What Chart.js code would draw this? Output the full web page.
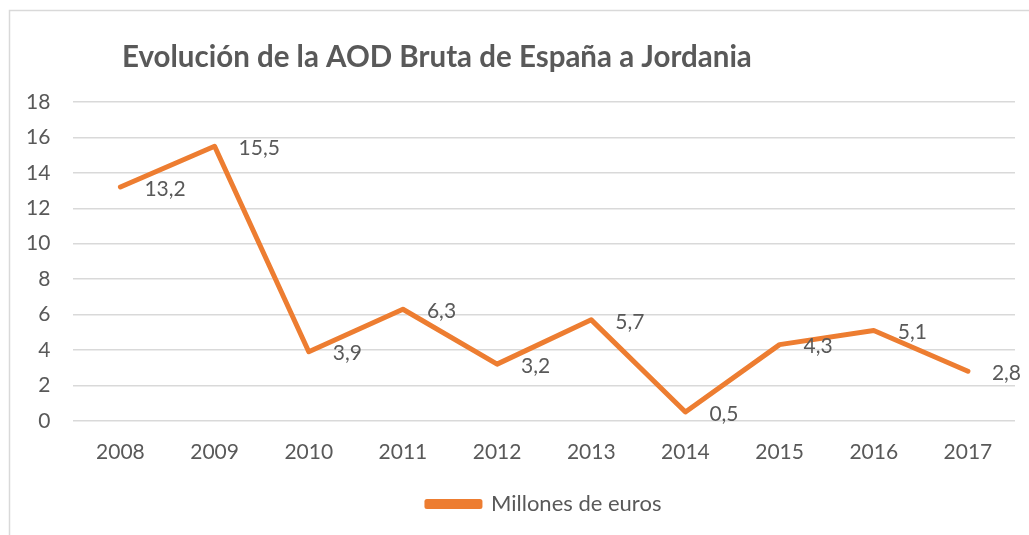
<!DOCTYPE html>
<html>
<head>
<meta charset="utf-8">
<script src="https://cdn.jsdelivr.net/npm/chart.js@4.4.1/dist/chart.umd.min.js"></script>
<style>
  html, body { margin: 0; padding: 0; background: #fff; }
  #wrap { width: 1029px; height: 535px; position: relative; }
</style>
</head>
<body>
<div id="wrap"><canvas id="aodChart" width="1029" height="535"></canvas></div>
<script>
    // data
    const years = ["2008", "2009", "2010", "2011", "2012", "2013", "2014", "2015", "2016", "2017"];
    const millones = [13.2, 15.5, 3.9, 6.3, 3.2, 5.7, 0.5, 4.3, 5.1, 2.8];
    const seriesName = "Millones de euros";
    const chartTitle = "Evolución de la AOD Bruta de España a Jordania";

    const orange = "#ED7D31";
    const textGray = "#595959";
    const gridGray = "#d9d9d9";
    const fontFamily = "Lato, 'Open Sans', sans-serif";

    // frame, title and value labels (Excel style)
    const excelDecor = {
        id: "excelDecor",
        beforeDraw(chart) {
            const ctx = chart.ctx;
            ctx.save();
            ctx.strokeStyle = gridGray;
            ctx.lineWidth = 1.5;
            ctx.strokeRect(9.5, 10.5, 1200, 800);
            ctx.fillStyle = textGray;
            ctx.font = "bold 29.5px " + fontFamily;
            ctx.textAlign = "left";
            ctx.textBaseline = "middle";
            ctx.fillText(chartTitle, 122, 57);
            ctx.restore();
        },
        afterDatasetsDraw(chart) {
            const ctx = chart.ctx;
            const meta = chart.getDatasetMeta(0);
            ctx.save();
            ctx.fillStyle = textGray;
            ctx.font = "21px " + fontFamily;
            ctx.textAlign = "left";
            ctx.textBaseline = "middle";
            meta.data.forEach((pt, i) => {
                const label = millones[i].toFixed(1).replace(".", ",");
                ctx.fillText(label, pt.x + 24, pt.y + 2);
            });
            ctx.restore();
        }
    };

    new Chart(document.getElementById("aodChart"), {
        type: "line",
        data: {
            labels: years,
            datasets: [{
                label: seriesName,
                data: millones,
                borderColor: orange,
                backgroundColor: orange,
                borderWidth: 5,
                borderJoinStyle: "round",
                borderCapStyle: "round",
                pointRadius: 0,
                tension: 0
            }]
        },
        options: {
            responsive: false,
            animation: false,
            layout: { padding: { top: 102, left: 3, right: 14, bottom: 10 } },
            scales: {
                x: {
                    offset: true,
                    grid: { display: false, drawTicks: false },
                    border: { display: false },
                    ticks: { color: textGray, font: { family: fontFamily, size: 21 }, padding: 19 }
                },
                y: {
                    min: 0,
                    max: 18,
                    grid: { color: gridGray, lineWidth: 1.5, drawTicks: false },
                    border: { display: false },
                    ticks: { stepSize: 2, color: textGray, font: { family: fontFamily, size: 21 }, padding: 23 }
                }
            },
            plugins: {
                legend: {
                    position: "bottom",
                    fullSize: false,
                    labels: {
                        color: textGray,
                        font: { family: fontFamily, size: 22 },
                        boxWidth: 53,
                        boxHeight: 5,
                        padding: 9
                    }
                },
                tooltip: { enabled: false }
            }
        },
        plugins: [excelDecor]
    });
</script>
</body>
</html>
